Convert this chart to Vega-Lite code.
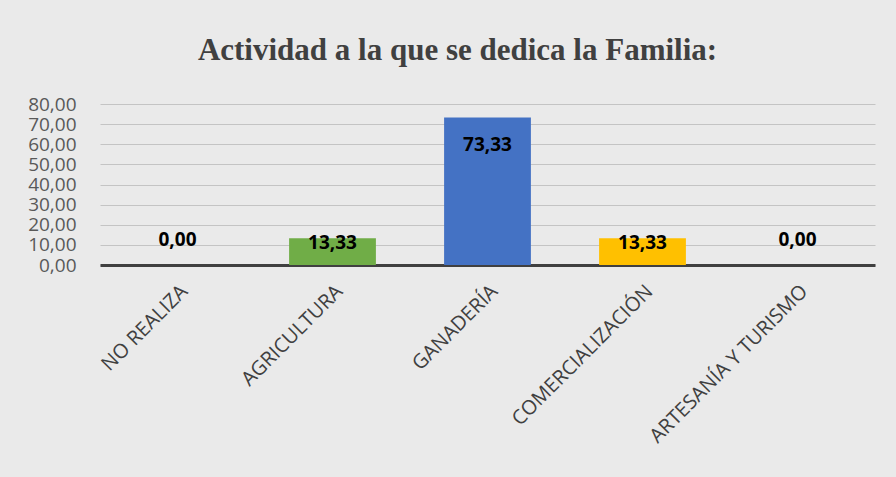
{
  "$schema": "https://vega.github.io/schema/vega-lite/v6.json",
  "width": 775,
  "height": 161,
  "autosize": {"type": "none"},
  "padding": {"left": 100, "top": 104, "right": 21, "bottom": 212},
  "background": "#eaeaea",
  "title": {
    "text": "Actividad a la que se dedica la Familia:",
    "font": "Liberation Serif",
    "fontSize": 31,
    "fontWeight": "bold",
    "color": "#404040",
    "anchor": "middle",
    "dx": -30,
    "offset": 28
  },
  "config": {
    "view": {"stroke": null},
    "locale": {"number": {"decimal": ",", "thousands": ".", "grouping": [3], "currency": ["", " €"]}}
  },
  "data": {
    "values": [
      {"actividad": "NO REALIZA", "porcentaje": 0},
      {"actividad": "AGRICULTURA", "porcentaje": 13.33},
      {"actividad": "GANADERÍA", "porcentaje": 73.33},
      {"actividad": "COMERCIALIZACIÓN", "porcentaje": 13.33},
      {"actividad": "ARTESANÍA Y TURISMO", "porcentaje": 0}
    ]
  },
  "encoding": {
    "x": {
      "field": "actividad",
      "type": "nominal",
      "sort": null,
      "scale": {"paddingInner": 0.44, "paddingOuter": 0.22},
      "axis": {
        "title": null,
        "labelAngle": -45,
        "labelFont": "Open Sans",
        "labelFontSize": 20,
        "labelLimit": 0,
        "labelColor": "#404040",
        "labelPadding": 16,
        "ticks": false,
        "domainColor": "#404040",
        "domainWidth": 3
      }
    },
    "y": {
      "field": "porcentaje",
      "type": "quantitative",
      "scale": {"domain": [0, 80]},
      "axis": {
        "title": null,
        "values": [0, 10, 20, 30, 40, 50, 60, 70, 80],
        "format": ".2f",
        "labelFont": "Open Sans",
        "labelFontSize": 19,
        "labelColor": "#595959",
        "labelPadding": 24,
        "ticks": false,
        "domain": false,
        "gridColor": "#c4c4c4",
        "gridWidth": 1
      }
    }
  },
  "layer": [
    {
      "mark": {"type": "bar"},
      "encoding": {
        "color": {
          "field": "actividad",
          "type": "nominal",
          "scale": {
            "domain": ["NO REALIZA", "AGRICULTURA", "GANADERÍA", "COMERCIALIZACIÓN", "ARTESANÍA Y TURISMO"],
            "range": ["#5b9bd5", "#70ad47", "#4472c4", "#ffc000", "#a5a5a5"]
          },
          "legend": null
        }
      }
    },
    {
      "transform": [{"filter": "datum.porcentaje > 50"}],
      "mark": {"type": "text", "font": "Open Sans", "fontSize": 19, "fontWeight": "bold", "color": "#000000", "baseline": "middle", "dy": 28},
      "encoding": {"text": {"field": "porcentaje", "type": "quantitative", "format": ".2f"}}
    },
    {
      "transform": [{"filter": "datum.porcentaje > 0 && datum.porcentaje <= 50"}],
      "mark": {"type": "text", "font": "Open Sans", "fontSize": 19, "fontWeight": "bold", "color": "#000000", "baseline": "middle", "dy": 5},
      "encoding": {"text": {"field": "porcentaje", "type": "quantitative", "format": ".2f"}}
    },
    {
      "transform": [{"filter": "datum.porcentaje == 0"}],
      "mark": {"type": "text", "font": "Open Sans", "fontSize": 19, "fontWeight": "bold", "color": "#000000", "baseline": "middle", "dy": -25},
      "encoding": {"text": {"field": "porcentaje", "type": "quantitative", "format": ".2f"}}
    }
  ]
}
